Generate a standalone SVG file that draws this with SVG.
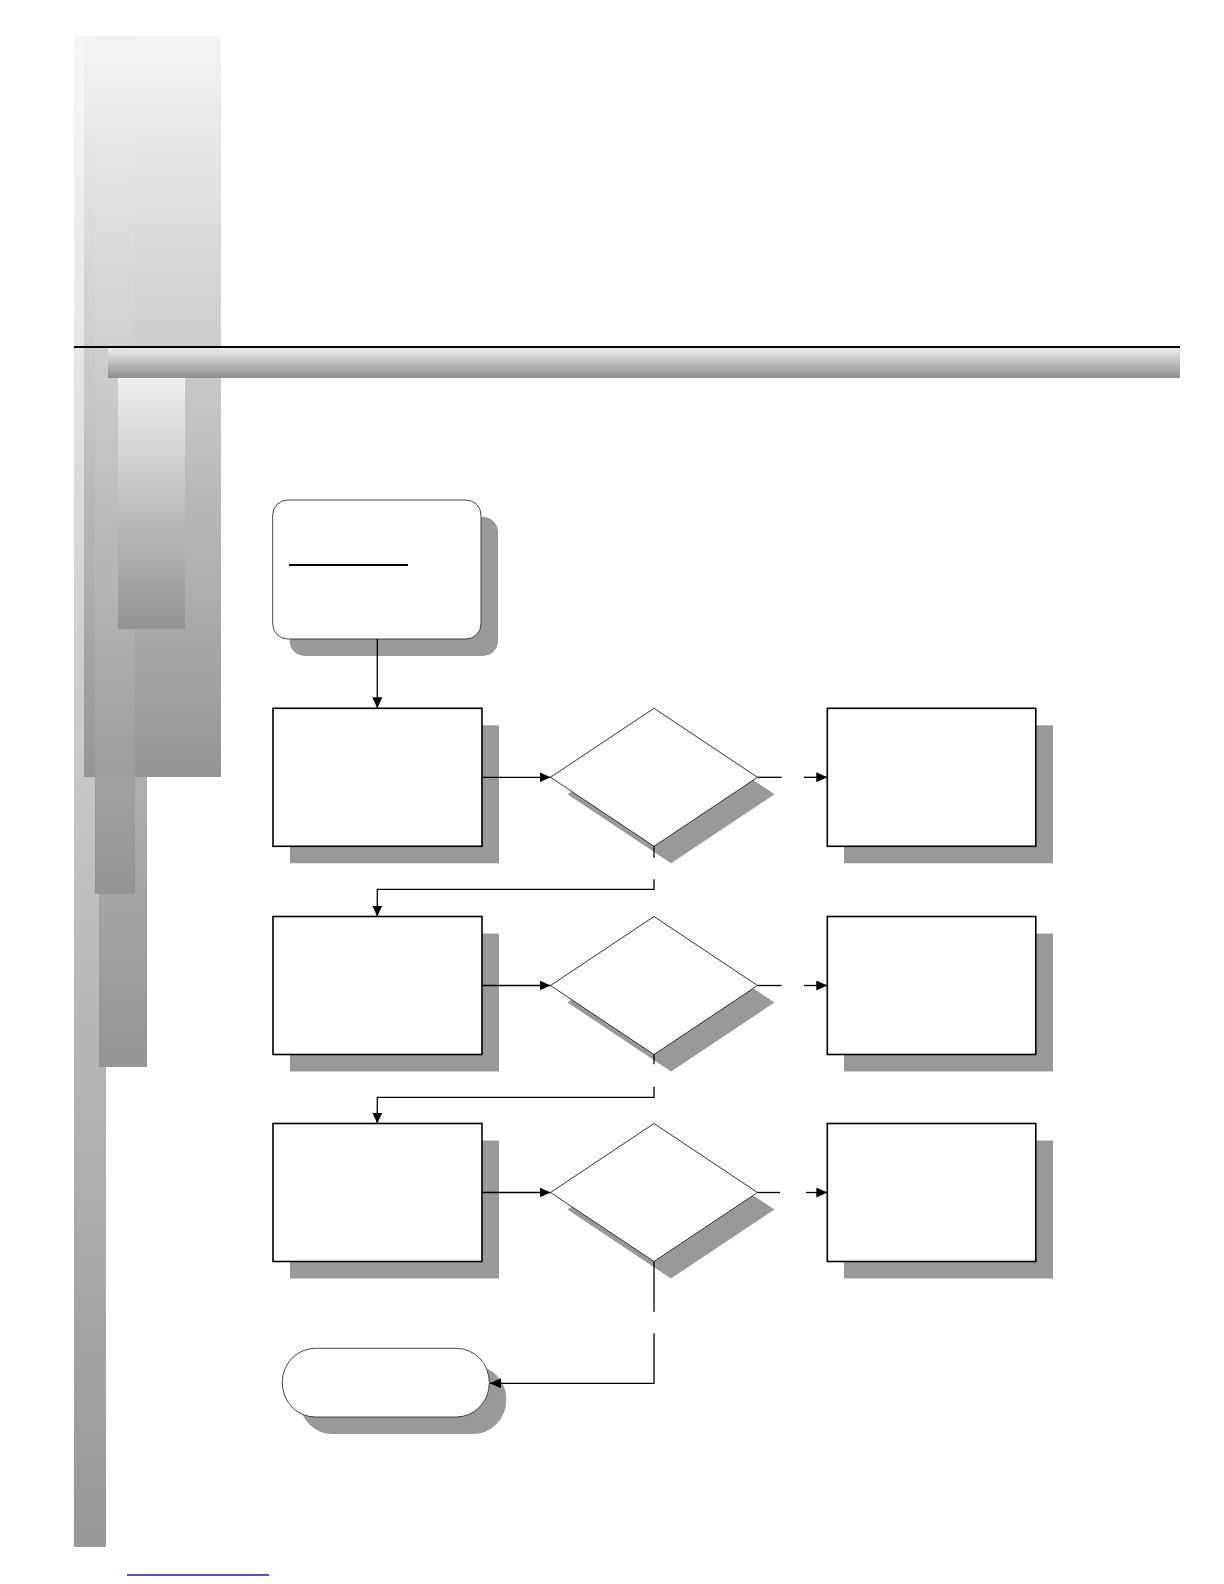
<svg xmlns="http://www.w3.org/2000/svg" width="1224" height="1584" viewBox="0 0 1224 1584">
<style>
.sh{fill:#999999}
.box{fill:#ffffff;stroke:#000000;stroke-width:1.6}
.dia{fill:#ffffff;stroke:#333333;stroke-width:1}
.term{fill:#ffffff;stroke:#444444;stroke-width:1}
.conn{fill:none;stroke:#000000;stroke-width:1.3}
</style>
<defs>
<linearGradient id="gP1" gradientUnits="userSpaceOnUse" x1="0" y1="36" x2="0" y2="1547">
<stop offset="0" stop-color="#f7f7f7"/><stop offset="0.2" stop-color="#e6e6e6"/><stop offset="0.506" stop-color="#c4c4c4"/><stop offset="1" stop-color="#979797"/>
</linearGradient>
<linearGradient id="gP2" gradientUnits="userSpaceOnUse" x1="0" y1="36" x2="0" y2="777">
<stop offset="0" stop-color="#f4f4f4"/><stop offset="1" stop-color="#959595"/>
</linearGradient>
<linearGradient id="gP3" gradientUnits="userSpaceOnUse" x1="0" y1="36" x2="0" y2="894">
<stop offset="0" stop-color="#f3f3f3"/><stop offset="1" stop-color="#949494"/>
</linearGradient>
<linearGradient id="gP4" gradientUnits="userSpaceOnUse" x1="0" y1="36" x2="0" y2="1067">
<stop offset="0" stop-color="#eeeeee"/><stop offset="1" stop-color="#959595"/>
</linearGradient>
<linearGradient id="gP5" gradientUnits="userSpaceOnUse" x1="0" y1="378" x2="0" y2="629">
<stop offset="0" stop-color="#eeeeee"/><stop offset="1" stop-color="#939393"/>
</linearGradient>
<linearGradient id="gH" gradientUnits="userSpaceOnUse" x1="0" y1="348" x2="0" y2="378">
<stop offset="0" stop-color="#ececec"/><stop offset="1" stop-color="#8e8e8e"/>
</linearGradient>
<marker id="ah" markerUnits="userSpaceOnUse" markerWidth="12" markerHeight="10" refX="11" refY="5" orient="auto">
<path d="M0,0 L11,5 L0,10 z" fill="#000000"/>
</marker>
</defs>

<g id="decor">
<rect x="74" y="36" width="32" height="1511" fill="url(#gP1)"/>
<rect x="99" y="300" width="48" height="767" fill="url(#gP4)"/>
<rect x="84" y="36" width="137" height="741" fill="url(#gP2)"/>
<rect x="95" y="36" width="40" height="858" fill="url(#gP3)" opacity="0.7"/>
<rect x="95" y="777" width="40" height="117" fill="url(#gP3)"/>
<rect x="108" y="348" width="1072" height="30" fill="url(#gH)"/>
<rect x="118" y="378" width="67" height="251" fill="url(#gP5)"/>
<line x1="74" y1="347" x2="1180" y2="347" stroke="#000000" stroke-width="2"/>
<line x1="127" y1="1575" x2="269" y2="1575" stroke="#1f1f9f" stroke-width="1.5"/>
</g>

<g id="start">
<rect class="sh" x="289.7" y="517" width="208.3" height="139" rx="15"/>
<rect class="term" x="272.7" y="500" width="208.3" height="139" rx="15"/>
<line x1="289" y1="565" x2="408" y2="565" stroke="#000000" stroke-width="2"/>
</g>

<g id="step1">
<rect class="sh" x="290" y="725.3" width="209" height="138"/>
<rect class="box" x="273" y="708.3" width="209" height="138"/>
</g>
<g id="decision1">
<polygon class="sh" points="671,725.3 774.5,794.3 671,863.3 567.5,794.3"/>
<polygon class="dia" points="654,708.3 757.5,777.3 654,846.3 550.5,777.3"/>
</g>
<g id="result1">
<rect class="sh" x="844" y="725.3" width="209" height="138"/>
<rect class="box" x="827.3" y="708.3" width="208.5" height="138"/>
</g>

<g id="step2">
<rect class="sh" x="290" y="933.5" width="209" height="138"/>
<rect class="box" x="273" y="916.5" width="209" height="138"/>
</g>
<g id="decision2">
<polygon class="sh" points="671,933.5 774.5,1002.5 671,1071.5 567.5,1002.5"/>
<polygon class="dia" points="654,916.5 757.5,985.5 654,1054.5 550.5,985.5"/>
</g>
<g id="result2">
<rect class="sh" x="844" y="933.5" width="209" height="138"/>
<rect class="box" x="827.3" y="916.5" width="208.5" height="138"/>
</g>

<g id="step3">
<rect class="sh" x="290" y="1140.5" width="209" height="138"/>
<rect class="box" x="273" y="1123.5" width="209" height="138"/>
</g>
<g id="decision3">
<polygon class="sh" points="671,1140.5 774.5,1209.5 671,1278.5 567.5,1209.5"/>
<polygon class="dia" points="654,1123.5 757.5,1192.5 654,1261.5 550.5,1192.5"/>
</g>
<g id="result3">
<rect class="sh" x="844" y="1140.5" width="209" height="138"/>
<rect class="box" x="827.3" y="1123.5" width="208.5" height="138"/>
</g>

<g id="end">
<rect class="sh" x="299.3" y="1365.3" width="207" height="68.7" rx="33" ry="34"/>
<rect class="term" x="282.3" y="1348.3" width="207" height="68.7" rx="33" ry="34"/>
</g>

<g id="connectors">
<path class="conn" d="M377.3,639 V708.3" marker-end="url(#ah)"/>
<path class="conn" d="M482,777.3 H550.5" marker-end="url(#ah)"/>
<path class="conn" d="M757.5,777.3 H781.7"/>
<path class="conn" d="M804,777.3 H827.3" marker-end="url(#ah)"/>
<path class="conn" d="M654,846.3 V857.7"/>
<path class="conn" d="M654,879.3 V889.3 H377.3 V916.5" marker-end="url(#ah)"/>

<path class="conn" d="M482,985.5 H550.5" marker-end="url(#ah)"/>
<path class="conn" d="M757.5,985.5 H781.7"/>
<path class="conn" d="M804,985.5 H827.3" marker-end="url(#ah)"/>
<path class="conn" d="M654,1054.5 V1064.3"/>
<path class="conn" d="M654,1086.7 V1097.3 H377.3 V1123.5" marker-end="url(#ah)"/>

<path class="conn" d="M482,1192.5 H550.5" marker-end="url(#ah)"/>
<path class="conn" d="M757.5,1192.5 H780"/>
<path class="conn" d="M806,1192.5 H827.3" marker-end="url(#ah)"/>
<path class="conn" d="M654,1261.5 V1311.7"/>
<path class="conn" d="M654,1333.3 V1383.3 H490" marker-end="url(#ah)"/>
</g>
</svg>
